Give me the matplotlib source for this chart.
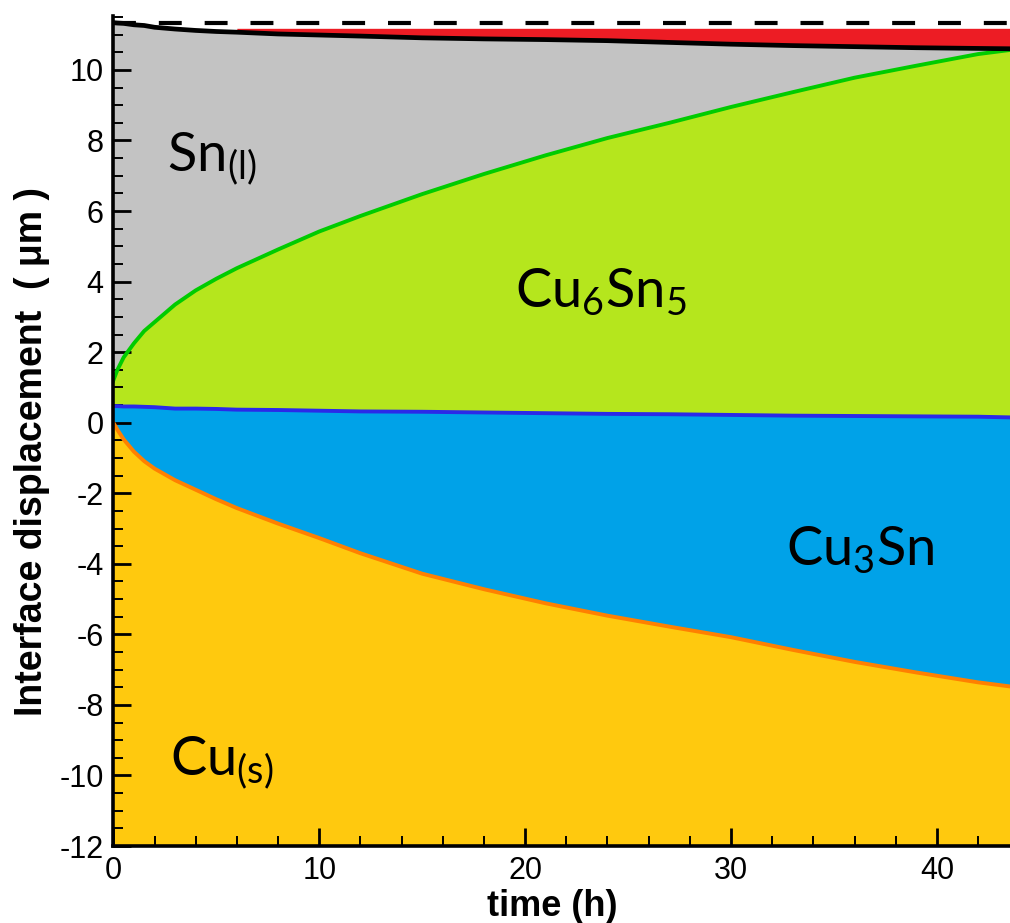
import numpy as np
import matplotlib
matplotlib.use("Agg")
from matplotlib import pyplot as plt
from matplotlib.ticker import MultipleLocator

# interface positions (um), all on the same time grid (h)
t = [0, 0.2, 0.5, 1, 1.5, 2, 3, 4, 5, 6, 8, 10, 12, 15, 18, 21, 24, 27,
     30, 33, 36, 39, 42, 43.6]
sn_surface = [11.34, 11.33, 11.32, 11.28, 11.26, 11.21, 11.16, 11.12, 11.09,
              11.07, 11.02, 10.99, 10.96, 10.91, 10.88, 10.86, 10.83, 10.78,
              10.73, 10.69, 10.66, 10.63, 10.61, 10.60]
cu6sn5_front = [1.2, 1.5, 1.85, 2.25, 2.6, 2.85, 3.35, 3.75, 4.08, 4.38, 4.91,
                5.42, 5.86, 6.48, 7.05, 7.58, 8.07, 8.5, 8.95, 9.37, 9.78,
                10.12, 10.45, 10.57]
cu3sn_front = [0.47, 0.47, 0.46, 0.46, 0.45, 0.44, 0.40, 0.40, 0.39, 0.37,
               0.36, 0.34, 0.32, 0.31, 0.29, 0.27, 0.25, 0.24, 0.22, 0.20,
               0.19, 0.18, 0.17, 0.15]
cu_front = [0.0, -0.2, -0.47, -0.82, -1.09, -1.30, -1.63, -1.90, -2.17, -2.42,
            -2.86, -3.27, -3.70, -4.28, -4.72, -5.12, -5.47, -5.78, -6.08,
            -6.44, -6.78, -7.08, -7.36, -7.48]

initial_level = 11.34
red_top = 11.18
red_start = 6.1

phase_names = [r"$\mathrm{Sn_{(l)}}$", r"$\mathrm{Cu_{6}Sn_{5}}$",
               r"$\mathrm{Cu_{3}Sn}$", r"$\mathrm{Cu_{(s)}}$"]
phase_pos = [(2.6, 7.1), (19.5, 3.25), (32.65, -4.05), (2.75, -10.0)]

plt.rcParams['mathtext.fontset'] = 'custom'
plt.rcParams['mathtext.rm'] = 'Lato'
plt.rcParams['font.family'] = ['Liberation Sans', 'DejaVu Sans']
plt.rcParams['axes.unicode_minus'] = False

t = np.array(t)
sn_surface = np.array(sn_surface)

fig = plt.figure(figsize=(10.1, 9.23), dpi=100)
ax = fig.add_axes([0.1122, 0.0834, 0.8878, 0.8993])

ax.fill_between(t, -12, cu_front, color='#ffc90e', lw=0)
ax.fill_between(t, cu_front, cu3sn_front, color='#00a2e8', lw=0)
ax.fill_between(t, cu3sn_front, cu6sn5_front, color='#b5e61d', lw=0)
ax.fill_between(t, cu6sn5_front, sn_surface, color='#c3c3c3', lw=0)
ax.fill_between(t, sn_surface, red_top, where=t >= red_start - 0.1,
                color='#ed1c24', lw=0)

ax.plot(t, cu_front, color='#ff8000', lw=2.8)
ax.plot(t, cu3sn_front, color='#2a2ae8', lw=2.8)
ax.plot(t, cu6sn5_front, color='#00cc00', lw=2.8)
ax.plot(t, sn_surface, color='black', lw=3.4)
ax.axhline(initial_level, color='black', lw=3, dashes=(5.5, 5.5))

for name, (x, y) in zip(phase_names, phase_pos):
    ax.text(x, y, name, fontsize=39, ha='left', va='baseline')

ax.set_xlim(0, 43.55)
ax.set_ylim(-12, 11.53)
ax.xaxis.set_major_locator(MultipleLocator(10))
ax.xaxis.set_minor_locator(MultipleLocator(2))
ax.yaxis.set_major_locator(MultipleLocator(2))
ax.yaxis.set_minor_locator(MultipleLocator(0.5))
ax.tick_params(which='major', direction='in', length=13, width=2,
               labelsize=22, pad=7)
ax.tick_params(which='minor', direction='in', length=7, width=1.4)
for side in ['top', 'right']:
    ax.spines[side].set_visible(False)
for side in ['left', 'bottom']:
    ax.spines[side].set_linewidth(2.6)

ax.set_xlabel("time (h)", fontsize=26, fontweight='bold')
ax.set_ylabel("Interface displacement  ( μm )", fontsize=27, fontweight='bold')
ax.xaxis.set_label_coords(0.489, -0.052, transform=ax.transAxes)
ax.yaxis.set_label_coords(-0.071, 0.475, transform=ax.transAxes)

fig.savefig("out.png", dpi=100)
